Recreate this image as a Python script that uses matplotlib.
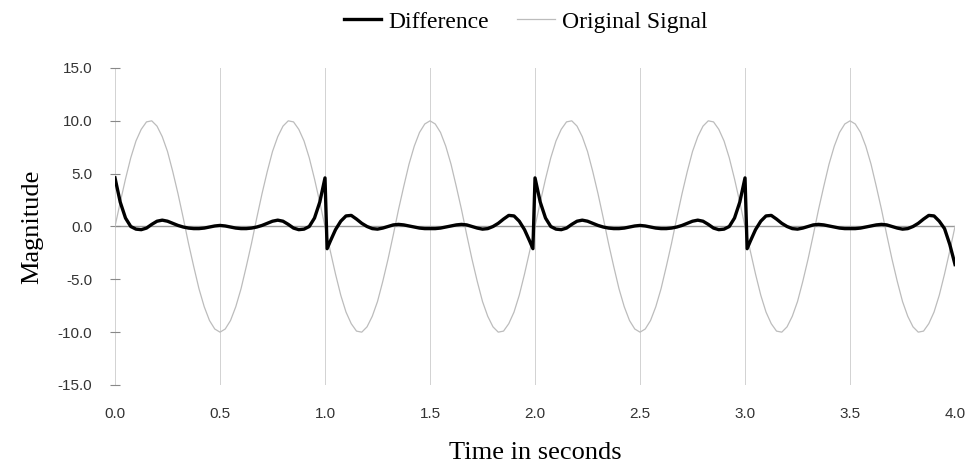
import numpy as np
import matplotlib.pyplot as plt

# original signal, sampled every 0.025 s
signal_step = 0.025
signal_vals = [
    0.0, 2.3, 4.5, 6.5, 8.1, 9.2, 9.9, 10.0, 9.5, 8.5, 7.1, 5.2, 3.1, 0.8,
    -1.6, -3.8, -5.9, -7.6, -8.9, -9.7, -10.0, -9.7, -8.9, -7.6, -5.9, -3.8, -1.6,
    0.8, 3.1, 5.2, 7.1, 8.5, 9.5, 10.0, 9.9, 9.2, 8.1, 6.5, 4.5, 2.3,
    0.0, -2.3, -4.5, -6.5, -8.1, -9.2, -9.9, -10.0, -9.5, -8.5, -7.1, -5.2, -3.1, -0.8,
    1.6, 3.8, 5.9, 7.6, 8.9, 9.7, 10.0, 9.7, 8.9, 7.6, 5.9, 3.8, 1.6,
    -0.8, -3.1, -5.2, -7.1, -8.5, -9.5, -10.0, -9.9, -9.2, -8.1, -6.5, -4.5, -2.3,
    0.0, 2.3, 4.5, 6.5, 8.1, 9.2, 9.9, 10.0, 9.5, 8.5, 7.1, 5.2, 3.1, 0.8,
    -1.6, -3.8, -5.9, -7.6, -8.9, -9.7, -10.0, -9.7, -8.9, -7.6, -5.9, -3.8, -1.6,
    0.8, 3.1, 5.2, 7.1, 8.5, 9.5, 10.0, 9.9, 9.2, 8.1, 6.5, 4.5, 2.3,
    0.0, -2.3, -4.5, -6.5, -8.1, -9.2, -9.9, -10.0, -9.5, -8.5, -7.1, -5.2, -3.1, -0.8,
    1.6, 3.8, 5.9, 7.6, 8.9, 9.7, 10.0, 9.7, 8.9, 7.6, 5.9, 3.8, 1.6,
    -0.8, -3.1, -5.2, -7.1, -8.5, -9.5, -10.0, -9.9, -9.2, -8.1, -6.5, -4.5, -2.3,
    0.0,
]
signal_t = np.round(np.arange(len(signal_vals)) * signal_step, 3)

# difference curve (extra points at the jumps)
diff_t = [
    0.000, 0.025, 0.050, 0.075, 0.100, 0.125, 0.150, 0.175, 0.200, 0.225,
    0.250, 0.275, 0.300, 0.325, 0.350, 0.375, 0.400, 0.425, 0.450, 0.475,
    0.500, 0.525, 0.550, 0.575, 0.600, 0.625, 0.650, 0.675, 0.700, 0.725,
    0.750, 0.775, 0.800, 0.825, 0.850, 0.875, 0.900, 0.925, 0.950, 0.975,
    1.000, 1.010, 1.025, 1.050, 1.075, 1.100, 1.125, 1.150, 1.175, 1.200,
    1.225, 1.250, 1.275, 1.300, 1.325, 1.350, 1.375, 1.400, 1.425, 1.450,
    1.475, 1.500, 1.525, 1.550, 1.575, 1.600, 1.625, 1.650, 1.675, 1.700,
    1.725, 1.750, 1.775, 1.800, 1.825, 1.850, 1.875, 1.900, 1.925, 1.950,
    1.975, 1.990,
    2.000, 2.025, 2.050, 2.075, 2.100, 2.125, 2.150, 2.175, 2.200, 2.225,
    2.250, 2.275, 2.300, 2.325, 2.350, 2.375, 2.400, 2.425, 2.450, 2.475,
    2.500, 2.525, 2.550, 2.575, 2.600, 2.625, 2.650, 2.675, 2.700, 2.725,
    2.750, 2.775, 2.800, 2.825, 2.850, 2.875, 2.900, 2.925, 2.950, 2.975,
    3.000, 3.010, 3.025, 3.050, 3.075, 3.100, 3.125, 3.150, 3.175, 3.200,
    3.225, 3.250, 3.275, 3.300, 3.325, 3.350, 3.375, 3.400, 3.425, 3.450,
    3.475, 3.500, 3.525, 3.550, 3.575, 3.600, 3.625, 3.650, 3.675, 3.700,
    3.725, 3.750, 3.775, 3.800, 3.825, 3.850, 3.875, 3.900, 3.925, 3.950,
    3.975, 4.000,
]
diff_vals = [
    4.6, 2.3, 0.8, 0.0, -0.25, -0.3, -0.15, 0.2, 0.5, 0.6,
    0.5, 0.3, 0.1, -0.05, -0.15, -0.2, -0.2, -0.15, -0.05, 0.05,
    0.1, 0.05, -0.05, -0.15, -0.2, -0.2, -0.15, -0.05, 0.1, 0.3,
    0.5, 0.6, 0.5, 0.2, -0.15, -0.3, -0.25, 0.0, 0.8, 2.3,
    4.6, -2.1, -1.4, -0.3, 0.5, 1.0, 1.05, 0.7, 0.3, 0.0,
    -0.2, -0.25, -0.15, 0.0, 0.15, 0.2, 0.15, 0.05, -0.05, -0.15,
    -0.2, -0.2, -0.2, -0.15, -0.05, 0.05, 0.15, 0.2, 0.15, 0.0,
    -0.15, -0.25, -0.2, 0.0, 0.3, 0.7, 1.05, 1.0, 0.5, -0.3,
    -1.4, -2.1,
    4.6, 2.3, 0.8, 0.0, -0.25, -0.3, -0.15, 0.2, 0.5, 0.6,
    0.5, 0.3, 0.1, -0.05, -0.15, -0.2, -0.2, -0.15, -0.05, 0.05,
    0.1, 0.05, -0.05, -0.15, -0.2, -0.2, -0.15, -0.05, 0.1, 0.3,
    0.5, 0.6, 0.5, 0.2, -0.15, -0.3, -0.25, 0.0, 0.8, 2.3,
    4.6, -2.1, -1.4, -0.3, 0.5, 1.0, 1.05, 0.7, 0.3, 0.0,
    -0.2, -0.25, -0.15, 0.0, 0.15, 0.2, 0.15, 0.05, -0.05, -0.15,
    -0.2, -0.2, -0.2, -0.15, -0.05, 0.05, 0.15, 0.2, 0.15, 0.0,
    -0.15, -0.25, -0.2, 0.0, 0.3, 0.7, 1.05, 1.0, 0.5, -0.2,
    -1.7, -3.6,
]

x_ticks = [0.0, 0.5, 1.0, 1.5, 2.0, 2.5, 3.0, 3.5, 4.0]
y_ticks = [-15.0, -10.0, -5.0, 0.0, 5.0, 10.0, 15.0]

serif = 'Liberation Serif'
sans = 'Liberation Sans'

fig = plt.figure(figsize=(9.68, 4.67), dpi=100)
ax = fig.add_axes([0.1188, 0.1756, 0.8678, 0.6788])

for xt in x_ticks:
    ax.axvline(xt, color='#d2d2d2', lw=0.7, zorder=0)
ax.axhline(0, color='#999999', lw=1.0, zorder=1)

ax.plot(signal_t, signal_vals, color='#bcbcbc', lw=0.9, label='Original Signal', zorder=2)
ax.plot(diff_t, diff_vals, color='black', lw=2.4, label='Difference', zorder=3)

ax.set_xlim(0, 4)
ax.set_ylim(-15, 15)
ax.set_xticks(x_ticks)
ax.set_xticklabels(['%.1f' % v for v in x_ticks], fontfamily=sans, fontsize=11, color='#333333')
ax.set_yticks(y_ticks)
ax.set_yticklabels(['%.1f' % v for v in y_ticks], fontfamily=sans, fontsize=11, color='#333333')
ax.tick_params(axis='x', length=0, pad=16)
ax.tick_params(axis='y', direction='inout', length=7, width=0.8, color='#888888', pad=13)
for s in ax.spines.values():
    s.set_visible(False)

ax.set_xlabel('Time in seconds', fontfamily=serif, fontsize=19, labelpad=15)
ax.set_ylabel('Magnitude', fontfamily=serif, fontsize=19, labelpad=10)

h, l = ax.get_legend_handles_labels()
fig.legend(h[::-1], l[::-1], loc='center', bbox_to_anchor=(0.543, 0.953), ncol=2,
           frameon=False, prop={'family': serif, 'size': 17},
           handlelength=1.6, handletextpad=0.3, columnspacing=1.2)

plt.savefig('out.png', dpi=100)
